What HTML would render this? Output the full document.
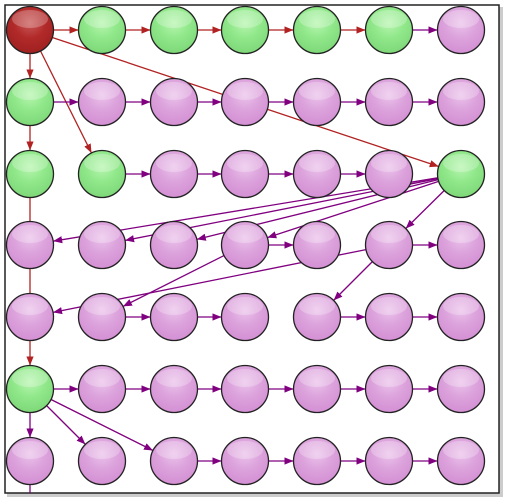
<!DOCTYPE html>
<html><head><meta charset="utf-8"><style>
html,body{margin:0;padding:0;background:#fff;width:506px;height:500px;overflow:hidden;font-family:"Liberation Sans",sans-serif}
</style></head><body>
<svg id="g" width="506" height="500" viewBox="0 0 506 500">
<defs>
<radialGradient id="gg" cx="50%" cy="35%" r="65%"><stop offset="0" stop-color="#b8f5b0"/><stop offset="0.5" stop-color="#90e88a"/><stop offset="1" stop-color="#7ed878"/></radialGradient>
<radialGradient id="gp" cx="50%" cy="35%" r="65%"><stop offset="0" stop-color="#ebc3eb"/><stop offset="0.5" stop-color="#dca3dc"/><stop offset="1" stop-color="#d490d4"/></radialGradient>
<radialGradient id="gr" cx="50%" cy="35%" r="65%"><stop offset="0" stop-color="#c85858"/><stop offset="0.5" stop-color="#b22a2a"/><stop offset="1" stop-color="#a02020"/></radialGradient>
<marker id="ar" viewBox="0 0 10 10" refX="10" refY="5" markerWidth="9" markerHeight="9" markerUnits="userSpaceOnUse" orient="auto"><path d="M0,1 L10,5 L0,9 z" fill="#b22222"/></marker>
<marker id="ap" viewBox="0 0 10 10" refX="10" refY="5" markerWidth="9" markerHeight="9" markerUnits="userSpaceOnUse" orient="auto"><path d="M0,1 L10,5 L0,9 z" fill="#800080"/></marker>
</defs>
<rect x="7" y="7" width="496" height="490" fill="#ccc"/>
<rect x="5" y="5" width="494" height="488" fill="#fff" stroke="#222" stroke-width="1.5"/>
<g id="edges"></g><g id="nodes"></g>
</svg>
<script>
const colX=[30,102,174,245,317,389,461];
const rowY=[30,102,174,245,317,389,461];
const greenNodes=["1,0","2,0","3,0","4,0","5,0","0,1","0,2","1,2","6,2","0,5"];
const redNodes=["0,0"];
const redEdges=[[0,0,1,0],[1,0,2,0],[2,0,3,0],[3,0,4,0],[4,0,5,0],[0,0,0,1],[0,1,0,2],[0,0,1,2],[0,0,6,2],[0,2,0,5]];
const purpleEdges=[[5,0,6,0],[0,1,1,1],[1,1,2,1],[2,1,3,1],[3,1,4,1],[4,1,5,1],[5,1,6,1],
[1,2,2,2],[2,2,3,2],[3,2,4,2],[4,2,5,2],
[6,2,0,3],[6,2,1,3],[6,2,2,3],[6,2,3,3],[6,2,5,3],[3,3,4,3],[5,3,6,3],[5,3,4,4],[5,3,0,4],[3,3,1,4],
[1,4,2,4],[2,4,3,4],[4,4,5,4],[5,4,6,4],
[0,5,1,5],[1,5,2,5],[2,5,3,5],[3,5,4,5],[4,5,5,5],[5,5,6,5],
[0,5,0,6],[0,5,1,6],[0,5,2,6],[2,6,3,6],[3,6,4,6],[4,6,5,6],[5,6,6,6]];
const R=23.5, NS="http://www.w3.org/2000/svg";
const eg=document.getElementById('edges'), ng=document.getElementById('nodes');
function edge(e,col,mk){
  const x1=colX[e[0]],y1=rowY[e[1]],x2=colX[e[2]],y2=rowY[e[3]];
  const dx=x2-x1,dy=y2-y1,L=Math.hypot(dx,dy),ux=dx/L,uy=dy/L;
  const l=document.createElementNS(NS,'line');
  l.setAttribute('x1',x1+ux*R);l.setAttribute('y1',y1+uy*R);
  l.setAttribute('x2',x2-ux*R);l.setAttribute('y2',y2-uy*R);
  l.setAttribute('stroke',col);l.setAttribute('stroke-width','1.3');
  l.setAttribute('marker-end','url(#'+mk+')');
  
  
  eg.appendChild(l);
}
redEdges.forEach(e=>edge(e,'#b22222','ar'));
purpleEdges.forEach(e=>edge(e,'#800080','ap'));
const tail=document.createElementNS(NS,'line');
tail.setAttribute('x1',colX[0]);tail.setAttribute('y1',rowY[6]+R);tail.setAttribute('x2',colX[0]);tail.setAttribute('y2',493);
tail.setAttribute('stroke','#800080');tail.setAttribute('stroke-width','1.3');


eg.appendChild(tail);
for(let r=0;r<rowY.length;r++)for(let c=0;c<colX.length;c++){
  const k=c+','+r;
  const fill=redNodes.includes(k)?'gr':greenNodes.includes(k)?'gg':'gp';
  const ci=document.createElementNS(NS,'circle');
  ci.setAttribute('cx',colX[c]);ci.setAttribute('cy',rowY[r]);ci.setAttribute('r',R);
  ci.setAttribute('fill','url(#'+fill+')');ci.setAttribute('stroke','#222');ci.setAttribute('stroke-width','1.3');
  
  
  ng.appendChild(ci);
  const h=document.createElementNS(NS,'ellipse');
  h.setAttribute('cx',colX[c]);h.setAttribute('cy',rowY[r]-11);h.setAttribute('rx',18);h.setAttribute('ry',9);
  h.setAttribute('fill','#fff');h.setAttribute('opacity','0.25');
  
  
  ng.appendChild(h);
}
</script>
</body></html>
